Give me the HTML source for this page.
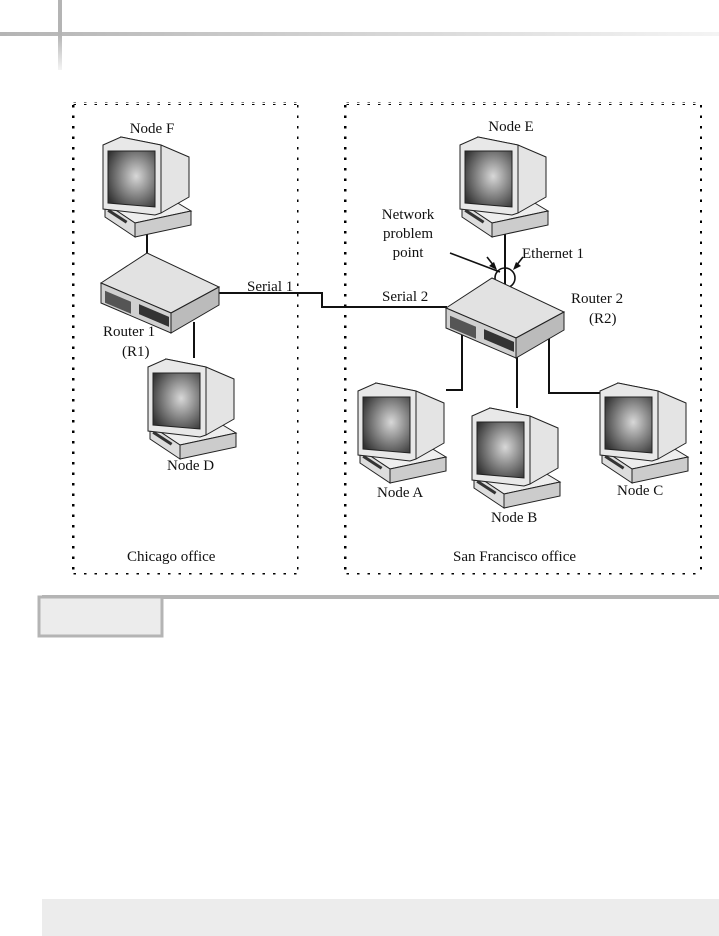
<!DOCTYPE html>
<html><head><style>
html,body{margin:0;padding:0;background:#fff;}
svg{display:block;}
text{font-family:"Liberation Serif",serif;font-size:15px;fill:#111;}
</style></head><body>
<svg width="719" height="936" viewBox="0 0 719 936" xmlns="http://www.w3.org/2000/svg">
<defs>
<linearGradient id="hb" x1="0" x2="1"><stop offset="0" stop-color="#b4b4b4"/><stop offset="1" stop-color="#f4f4f4"/></linearGradient>
<linearGradient id="vb" x1="0" y1="0" x2="0" y2="1"><stop offset="0.5" stop-color="#b4b4b4"/><stop offset="1" stop-color="#f4f4f4"/></linearGradient>
<radialGradient id="scr" cx="0.6" cy="0.45" r="0.7"><stop offset="0" stop-color="#d8d8d8"/><stop offset="1" stop-color="#333"/></radialGradient>
<pattern id="dh" width="10.5" height="4" patternUnits="userSpaceOnUse"><rect width="2.5" height="2.5" fill="#000"/></pattern>
<pattern id="dv" width="4" height="10.5" patternUnits="userSpaceOnUse"><rect width="2.5" height="2.5" fill="#000"/></pattern>
<g id="pc">
 <polygon points="2,68 58,58 88,76 32,88" fill="#eee" stroke="#222" stroke-width="1"/>
 <polygon points="2,68 32,88 32,102 2,82" fill="#ddd" stroke="#222" stroke-width="1"/>
 <polygon points="32,88 88,76 88,90 32,102" fill="#ccc" stroke="#222" stroke-width="1"/>
 <rect x="6" y="74" width="22" height="3" fill="#333" transform="rotate(33 6 74)"/>
 <polygon points="18,2 58,10 86,22 86,62 58,78 52,70" fill="#e4e4e4" stroke="#222" stroke-width="1"/>
 <polygon points="0,10 18,2 58,10 58,78 52,80 0,74" fill="#e8e8e8" stroke="#222" stroke-width="1"/>
 <polygon points="5,16 52,16 52,72 5,68" fill="url(#scr)" stroke="#222" stroke-width="1"/>
</g>
<g id="rt1">
 <polygon points="0,30 46,0 118,34 70,60" fill="#e2e2e2" stroke="#222"/>
 <polygon points="0,30 70,60 70,80 0,50" fill="#d0d0d0" stroke="#222"/>
 <polygon points="70,60 118,34 118,52 70,80" fill="#bbb" stroke="#222"/>
 <rect x="4" y="36" width="26" height="12" fill="#555" transform="skewY(23)"/>
 <rect x="38" y="35" width="30" height="10" fill="#333" transform="skewY(23)"/>
</g>
</defs>
<rect x="0" y="32" width="719" height="4" fill="url(#hb)"/>
<rect x="58" y="0" width="4" height="70" fill="url(#vb)"/>
<rect x="72" y="102" width="228" height="3" fill="url(#dh)"/>
<rect x="72" y="573" width="228" height="3" fill="url(#dh)"/>
<rect x="72" y="102" width="3" height="473" fill="url(#dv)"/>
<rect x="297" y="102" width="3" height="473" fill="url(#dv)"/>
<rect x="344" y="102" width="358" height="3" fill="url(#dh)"/>
<rect x="344" y="573" width="358" height="3" fill="url(#dh)"/>
<rect x="344" y="102" width="3" height="473" fill="url(#dv)"/>
<rect x="699" y="102" width="3" height="473" fill="url(#dv)"/>
<g stroke="#111" stroke-width="2" fill="none">
 <line x1="147" y1="233" x2="147" y2="262"/>
 <polyline points="219,293 322,293 322,307 447,307"/>
 <line x1="194" y1="322" x2="194" y2="358"/>
 <line x1="505" y1="232" x2="505" y2="288"/>
 <polyline points="462,325 462,390 446,390"/>
 <line x1="517" y1="355" x2="517" y2="408"/>
 <polyline points="549,335 549,393 603,393"/>
 <line x1="450" y1="253" x2="500" y2="272" stroke-width="1.6"/>
</g>
<circle cx="505" cy="278" r="10" fill="none" stroke="#111" stroke-width="1.6"/>
<g stroke="#111" stroke-width="1.6">
 <line x1="487" y1="257" x2="494" y2="266"/>
 <line x1="523" y1="257" x2="516" y2="266"/>
</g>
<polygon points="497,270 489,266 494,262" fill="#111"/>
<polygon points="513,270 516,262 521,266" fill="#111"/>
<use href="#pc" x="103" y="135"/>
<use href="#pc" x="460" y="135"/>
<use href="#pc" x="148" y="357"/>
<use href="#pc" x="358" y="381"/>
<use href="#pc" x="472" y="406"/>
<use href="#pc" x="600" y="381"/>
<use href="#rt1" x="101" y="253"/>
<use href="#rt1" x="446" y="278"/>
<text x="152" y="133" text-anchor="middle">Node F</text>
<text x="511" y="131" text-anchor="middle">Node E</text>
<text x="408" y="219" text-anchor="middle">Network</text>
<text x="408" y="238" text-anchor="middle">problem</text>
<text x="408" y="257" text-anchor="middle">point</text>
<text x="522" y="258">Ethernet 1</text>
<text x="247" y="291">Serial 1</text>
<text x="382" y="301">Serial 2</text>
<text x="571" y="303">Router 2</text>
<text x="589" y="323">(R2)</text>
<text x="103" y="336">Router 1</text>
<text x="122" y="356">(R1)</text>
<text x="167" y="470">Node D</text>
<text x="377" y="497">Node A</text>
<text x="491" y="522">Node B</text>
<text x="617" y="495">Node C</text>
<text x="127" y="561">Chicago office</text>
<text x="453" y="561">San Francisco office</text>
<rect x="42" y="595" width="677" height="4" fill="#b4b4b4"/>
<rect x="39" y="597" width="123" height="39" fill="#ececec" stroke="#b4b4b4" stroke-width="3"/>
<rect x="42" y="899" width="677" height="37" fill="#ececec"/>
</svg>
</body></html>
